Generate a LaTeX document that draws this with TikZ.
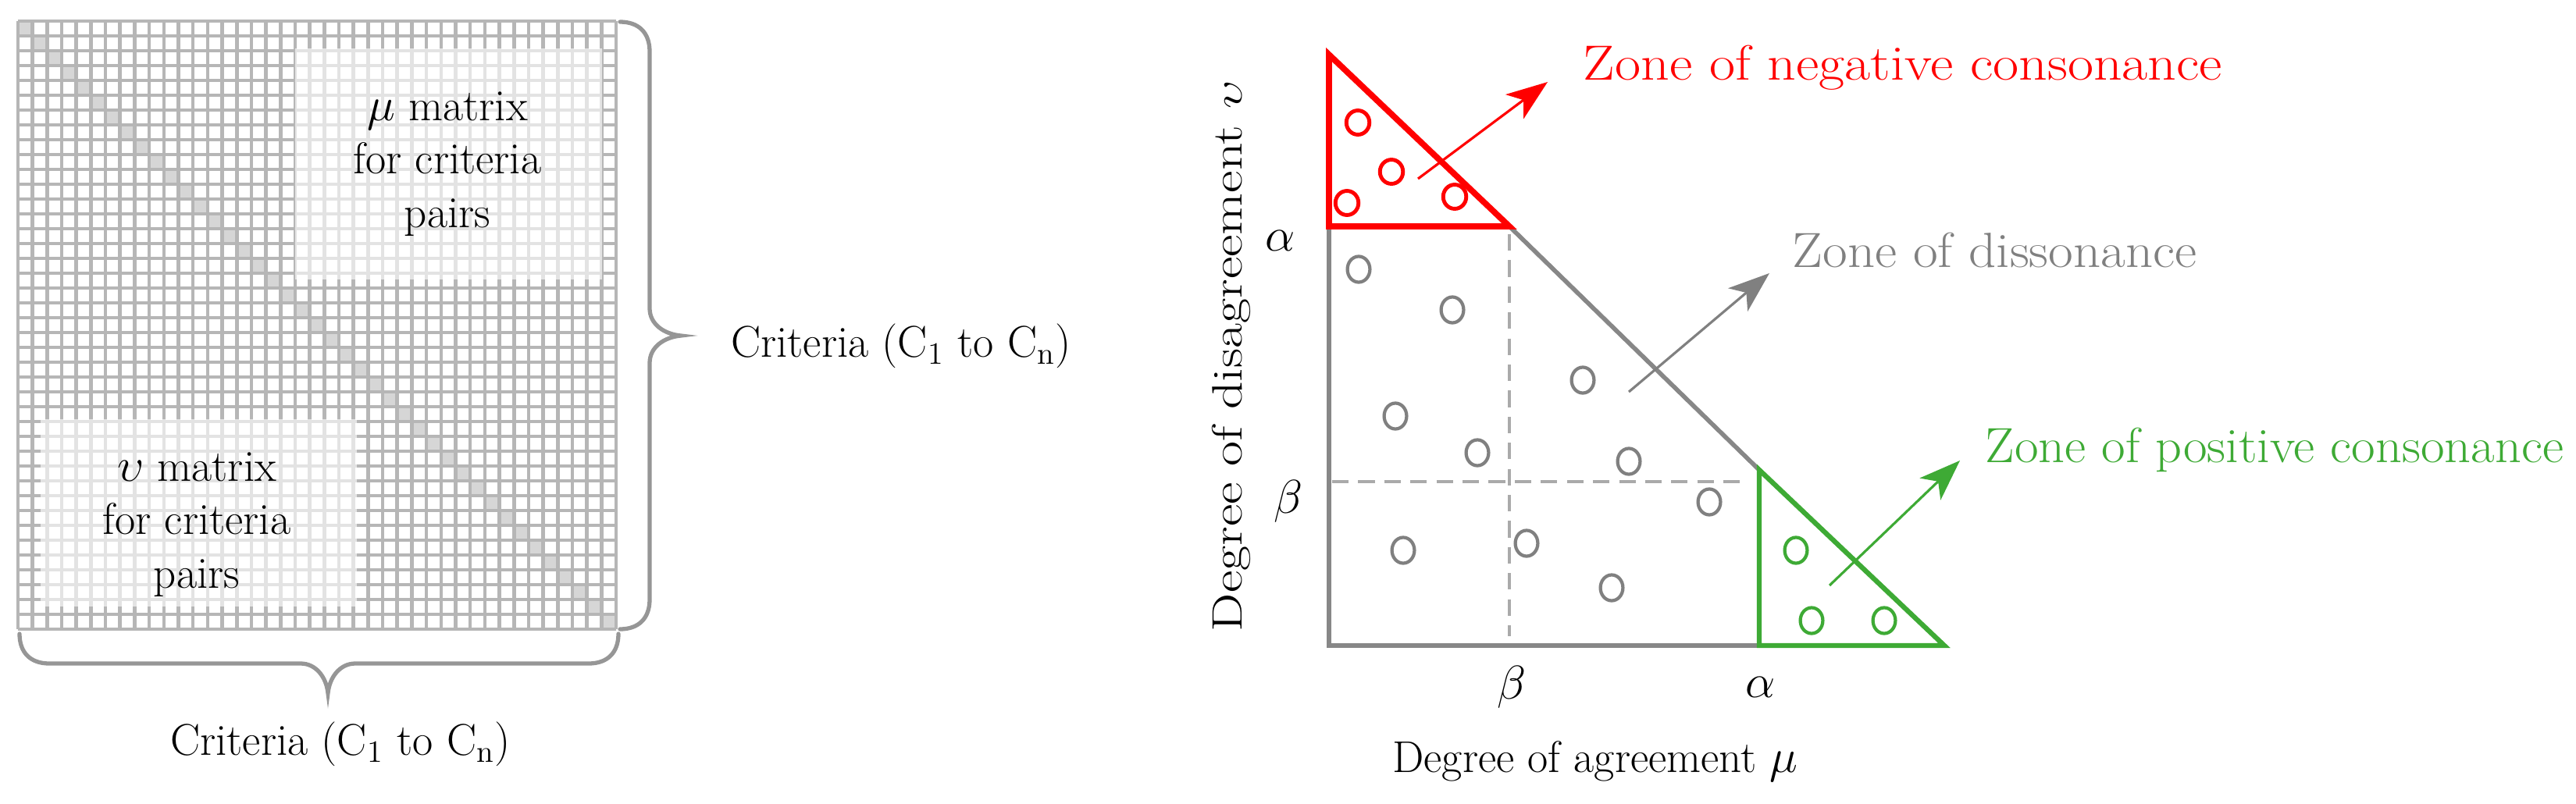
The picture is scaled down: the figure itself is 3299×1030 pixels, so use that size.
\documentclass[tikz,border=0pt]{standalone}
\usepackage{fontspec}
\usetikzlibrary{arrows.meta}
\definecolor{gridgray}{RGB}{182,182,182}
\definecolor{diaggray}{RGB}{214,214,214}
\definecolor{bracegray}{RGB}{150,150,150}
\definecolor{axisgray}{RGB}{135,135,135}
\definecolor{dashgray}{RGB}{170,170,170}
\definecolor{zred}{RGB}{255,0,0}
\definecolor{zgreen}{RGB}{62,170,53}
\definecolor{zgray}{RGB}{128,128,128}
\begin{document}
\begin{tikzpicture}[x=0.01cm,y=-0.01cm,
  gridln/.style={draw=gridgray,line width=1.3pt},
  diagcell/.style={fill=diaggray},
  veil/.style={fill=white,opacity=0.62},
  bracestyle/.style={draw=bracegray,line width=1.5pt,line cap=round},
  txt/.style={font=\fontsize{16.2}{19.4}\selectfont,inner sep=0pt},
  mtxt/.style={txt,align=center},
  zonetxt/.style={font=\fontsize{18}{21}\selectfont,inner sep=0pt,anchor=base west},
  axisln/.style={draw=axisgray,line width=1.6pt},
  dashln/.style={draw=dashgray,line width=1pt,dash pattern=on 6pt off 3.5pt},
  dot/.style={line width=1.2pt},
  zarrow/.style={line width=0.9pt,-{Stealth[length=15pt,width=11pt,inset=4pt]}},
]
\useasboundingbox (0,0) rectangle (3299,1030);

% ---------- matrix grid ----------
\foreach \i in {0,...,40}{
  \fill[diagcell] ({23+18.683*\i},{27+19*\i}) rectangle ({23+18.683*(\i+1)},{27+19*(\i+1)});
}
\foreach \i in {0,...,41}{
  \draw[gridln] ({23+18.683*\i},27) -- ({23+18.683*\i},806);
  \draw[gridln] (23,{27+19*\i}) -- (789,{27+19*\i});
}
\fill[veil] (378,62) rectangle (771,358);
\fill[veil] (52,537) rectangle (457,777);

\node[mtxt] (mutext) at (573,210) {$\mu$ matrix\\for criteria\\pairs};
\node[mtxt] (nutext) at (252,672) {$\upsilon$ matrix\\for criteria\\pairs};

% ---------- braces ----------
\draw[bracestyle] (794,28) .. controls (818,28) and (832,42) .. (832,66) -- (832,395)
  .. controls (832,415) and (850,428) .. (872,430)
  .. controls (850,432) and (832,445) .. (832,465) -- (832,768)
  .. controls (832,792) and (818,806) .. (794,806);
\draw[bracestyle] (25,812) .. controls (25,836) and (39,850) .. (63,850) -- (385,850)
  .. controls (405,850) and (418,868) .. (420,888)
  .. controls (422,868) and (435,850) .. (455,850) -- (754,850)
  .. controls (778,850) and (792,836) .. (792,812);

\node[txt] (critR) at (1154,443) {Criteria (C\textsubscript{1} to C\textsubscript{n})};
\node[txt] (critB) at (436,953) {Criteria (C\textsubscript{1} to C\textsubscript{n})};

% ---------- triangle diagram ----------
\coordinate (O) at (1702,827);
\coordinate (T) at (1702,70);
\coordinate (B) at (2490,827);
\coordinate (Ra) at (1702,290);
\coordinate (Rb) at (1933,290);
\coordinate (Ga) at (2253,602);
\coordinate (Gb) at (2253,827);
\coordinate (dv1) at (1933,300);
\coordinate (dv2) at (1933,815);
\coordinate (dh1) at (1706,617);
\coordinate (dh2) at (2237,617);

\draw[dashln] (dv1) -- (dv2);
\draw[dashln] (dh1) -- (dh2);
\draw[axisln] (Ra) -- (O) -- (Gb);
\draw[axisln] (Rb) -- (Ga);
\draw[draw=zred,line width=2.2pt] (T) -- (Rb) -- (Ra) -- cycle;
\draw[draw=zgreen,line width=1.8pt] (Ga) -- (B) -- (Gb) -- cycle;

% points
\foreach \p in {(1740,345),(1860,397),(2027,487),(1787,533),(1892,580),(2086,591),(2189,643),(1797,705),(1955,696),(2064,753)}{
  \draw[dot,draw=zgray] \p ellipse [x radius=4.1pt, y radius=4.7pt];
}
\foreach \p in {(1739,157),(1782,220),(1725,260),(1863,252)}{
  \draw[dot,draw=zred,line width=1.4pt] \p ellipse [x radius=4.2pt, y radius=4.4pt];
}
\foreach \p in {(2300,705),(2320,795),(2413,795)}{
  \draw[dot,draw=zgreen] \p ellipse [x radius=4.1pt, y radius=4.7pt];
}

% arrows
\coordinate (ra1) at (1816,229); \coordinate (ra2) at (1982,105);
\coordinate (ga1) at (2086,502); \coordinate (ga2) at (2266,350);
\coordinate (na1) at (2343,750); \coordinate (na2) at (2510,590);
\draw[zarrow,draw=zred,fill=zred] (ra1) -- (ra2);
\draw[zarrow,draw=zgray,fill=zgray] (ga1) -- (ga2);
\draw[zarrow,draw=zgreen,fill=zgreen] (na1) -- (na2);

\node[zonetxt,text=zred] (zneg) at (2027,102) {\scalebox{1.137}[1]{Zone of negative consonance}};
\node[zonetxt,text=zgray] (zdis) at (2295,342) {\scalebox{1.089}[1]{Zone of dissonance}};
\node[zonetxt,text=zgreen] (zpos) at (2542,592) {\scalebox{1.05}[1]{Zone of positive consonance}};

% axis labels
\node[txt] (ya) at (1640,308) {$\alpha$};
\node[txt] (yb) at (1650,642) {$\beta$};
\node[txt] (xb) at (1936,880) {$\beta$};
\node[txt] (xa) at (2255,880) {$\alpha$};
\node[txt] (xlab) at (2043,975) {Degree of agreement $\mu$};
\node[txt,font=\fontsize{15.5}{18}\selectfont,rotate=90] (ylab) at (1577,456) {\scalebox{1.28}[1]{Degree of disagreement $\upsilon$}};
\end{tikzpicture}
\end{document}
